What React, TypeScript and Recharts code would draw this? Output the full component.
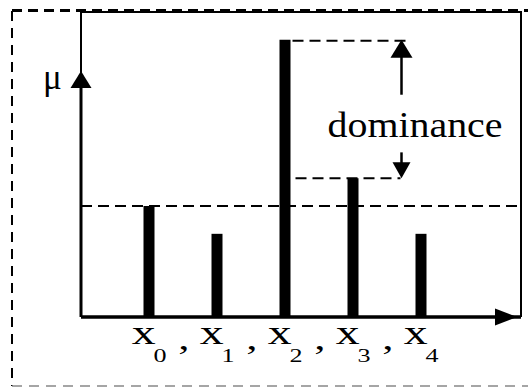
import { BarChart, Bar, XAxis, YAxis, ReferenceLine } from "recharts";

const categories = ["x0", "x1", "x2", "x3", "x4"];
const membership = [0.4, 0.3, 1.0, 0.5, 0.3];
const threshold = 0.4;
const yMax = 1.1;

const data = categories.map((name, i) => ({ name, mu: membership[i] }));

// dominance = gap between the highest grade and the runner-up
const ranked = [...membership].sort((a, b) => b - a);
const peak = ranked[0];
const runnerUp = ranked[1];
const peakCat = categories[membership.indexOf(peak)];
const lastCat = categories[categories.length - 1];

const SERIF = "'Liberation Serif', 'Times New Roman', Times, serif";
const serif = (size: number) => ({ fontFamily: SERIF, fontSize: size });
const W = 528;
const H = 387;
const M = { top: 12, right: 7, left: 81, bottom: 70 };

function XTick(props: any) {
  const { x, y, payload, index } = props;
  const sub = String(payload.value).slice(1);
  const last = index === categories.length - 1;
  return (
    <g transform={`translate(${x},${y}) scale(1.45,1)`} fill="#000">
      <text x={-11.5} y={27} style={serif(33)}>x</text>
      <text x={3.5} y={45} style={serif(18)}>{sub}</text>
      {!last && <text x={20.5} y={32} style={serif(31)}>,</text>}
    </g>
  );
}

// x axis with arrow, y axis arrow and the μ label
function Axes(props: any) {
  const { x1, x2, y1 } = props;
  const left = Math.min(x1, x2);
  const right = Math.max(x1, x2);
  const y = y1;
  const tip = y - 246;
  return (
    <g>
      <line x1={left} y1={y} x2={right} y2={y} stroke="#000" strokeWidth={3.5} />
      <polygon points={`${right - 4},${y} ${right - 26},${y - 8.5} ${right - 26},${y + 8.5}`} fill="#000" />
      <line x1={left} y1={y} x2={left} y2={tip + 16} stroke="#000" strokeWidth={3} />
      <polygon points={`${left},${tip} ${left - 10.5},${tip + 17} ${left + 10.5},${tip + 17}`} fill="#000" />
      <text x={left - 38} y={tip + 18} style={serif(35)} fill="#000">μ</text>
    </g>
  );
}

function PeakMark(props: any) {
  const { x1, x2, y1 } = props;
  const ax = x2 - 19;
  return (
    <g>
      <line x1={x1 + 8} y1={y1 + 1} x2={x2 - 10} y2={y1 + 1} stroke="#000" strokeWidth={2} strokeDasharray="11 6" />
      <polygon points={`${ax},${y1} ${ax - 11},${y1 + 18} ${ax + 11},${y1 + 18}`} fill="#000" />
      <line x1={ax} y1={y1 + 17} x2={ax} y2={y1 + 55} stroke="#000" strokeWidth={2.5} />
      <text
        x={ax - 74}
        y={y1 + 97}
        style={serif(36)}
        fill="#000"
        textLength={175}
        lengthAdjust="spacingAndGlyphs"
      >
        dominance
      </text>
    </g>
  );
}

function RunnerMark(props: any) {
  const { x1, x2, y1 } = props;
  const ax = x2 - 19;
  return (
    <g>
      <line x1={x1 + 11} y1={y1} x2={x2 - 20} y2={y1} stroke="#000" strokeWidth={2} strokeDasharray="11 6" />
      <line x1={ax} y1={y1 - 26} x2={ax} y2={y1 - 15} stroke="#000" strokeWidth={2.5} />
      <polygon points={`${ax},${y1} ${ax - 9},${y1 - 16} ${ax + 9},${y1 - 16}`} fill="#000" />
    </g>
  );
}

export default function App() {
  const plotRight = W - M.right;
  const plotBottom = H - M.bottom;
  return (
    <div style={{ position: "absolute", left: 0, top: 0, width: W, height: H, background: "#fff" }}>
      <BarChart width={W} height={H} data={data} margin={{ top: M.top, right: M.right, left: M.left, bottom: 0 }}>
        <XAxis
          dataKey="name"
          height={M.bottom}
          interval={0}
          padding={{ left: 33.5, right: 66.5 }}
          axisLine={false}
          tickLine={false}
          tickSize={0}
          tickMargin={0}
          tick={<XTick />}
        />
        <YAxis width={0} domain={[0, yMax]} tick={false} tickLine={false} axisLine={false} />
        <Bar dataKey="mu" fill="#000" barSize={11} isAnimationActive={false} />
        <ReferenceLine y={threshold} stroke="#000" strokeWidth={2} strokeDasharray="11 6" />
        <ReferenceLine y={0} shape={<Axes />} />
        <ReferenceLine segment={[{ x: peakCat, y: peak }, { x: lastCat, y: peak }]} shape={<PeakMark />} />
        <ReferenceLine segment={[{ x: peakCat, y: runnerUp }, { x: lastCat, y: runnerUp }]} shape={<RunnerMark />} />
      </BarChart>
      <svg width={W} height={H} style={{ position: "absolute", left: 0, top: 0, pointerEvents: "none" }}>
        {/* plot frame */}
        <polyline
          points={`${M.left},${plotBottom - 60} ${M.left},${M.top} ${plotRight},${M.top} ${plotRight},${plotBottom}`}
          fill="none"
          stroke="#000"
          strokeWidth={2}
        />
        {/* outer dashed box */}
        <line x1={12} y1={10.5} x2={W} y2={10.5} stroke="#000" strokeWidth={3} strokeDasharray="10 6" />
        <line x1={12} y1={11} x2={12} y2={386} stroke="#000" strokeWidth={2} strokeDasharray="10 7" />
        <line x1={12} y1={386} x2={W} y2={386} stroke="#888" strokeWidth={1.5} strokeDasharray="10 7" />
      </svg>
    </div>
  );
}
